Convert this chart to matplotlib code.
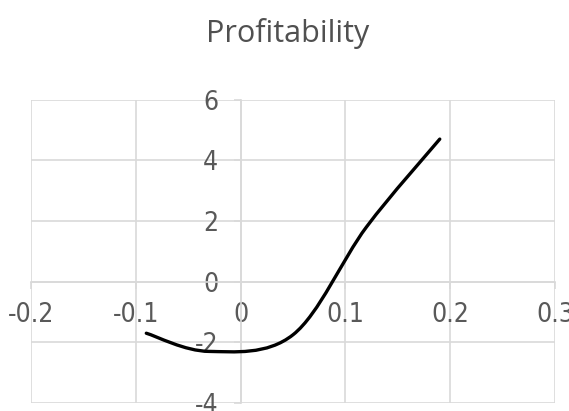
import numpy as np
import matplotlib
matplotlib.use('Agg')
import matplotlib.pyplot as plt
from matplotlib.path import Path
from matplotlib.patches import PathPatch

# Profitability curve points
x_vals = [-0.09, -0.03, 0.05, 0.12, 0.19]
y_vals = [-1.7, -2.3, -1.75, 1.8, 4.7]

x_ticks = [-0.2, -0.1, 0, 0.1, 0.2, 0.3]
y_ticks = [-4, -2, 0, 2, 4, 6]
x_labels = ['-0.2', '-0.1', '0', '0.1', '0.2', '0.3']
y_labels = ['-4', '-2', '0', '2', '4', '6']

grid_color = '#d9d9d9'
text_color = '#595959'


def smooth_path(xs, ys):
    # Bezier through the points, Excel-style smoothing
    pts = np.column_stack([xs, ys])
    n = len(pts)
    verts = [pts[0]]
    codes = [Path.MOVETO]
    for i in range(n - 1):
        p0 = pts[i - 1] if i > 0 else pts[i]
        p1 = pts[i]
        p2 = pts[i + 1]
        p3 = pts[i + 2] if i + 2 < n else pts[i + 1]
        c1 = p1 + (p2 - p0) / 6
        c2 = p2 - (p3 - p1) / 6
        verts += [c1, c2, p2]
        codes += [Path.CURVE4] * 3
    return Path(verts, codes)


fig = plt.figure(figsize=(5.69, 4.11), dpi=100)
ax = fig.add_axes([0.0545, 0.0195, 0.921, 0.738])

ax.set_xlim(-0.2, 0.3)
ax.set_ylim(-4, 6)
ax.set_xticks(x_ticks)
ax.set_yticks(y_ticks)
ax.set_xticklabels(x_labels)
ax.set_yticklabels(y_labels)
ax.grid(True, color=grid_color, linewidth=1.2)

for s in ['top', 'right']:
    ax.spines[s].set_visible(False)
for s in ['left', 'bottom']:
    ax.spines[s].set_position(('data', 0))
    ax.spines[s].set_color(grid_color)
    ax.spines[s].set_linewidth(1.2)
ax.tick_params(direction='out', length=5, width=1.2, color=grid_color,
               labelcolor=text_color, labelsize=19)
ax.tick_params(axis='y', pad=11)
ax.tick_params(axis='x', pad=10)
for lab in ax.get_xticklabels() + ax.get_yticklabels():
    lab.set_fontfamily('DejaVu Sans')
    lab.set_fontstretch('condensed')
    lab.set_fontweight('light')

curve = PathPatch(smooth_path(x_vals, y_vals), facecolor='none',
                  edgecolor='black', linewidth=2.4, capstyle='round', zorder=3)
ax.add_patch(curve)

fig.text(0.506, 0.918, 'Profitability', ha='center', va='center',
         fontsize=22, color='#505050', fontfamily='Open Sans')

fig.savefig('out.png', dpi=100)
